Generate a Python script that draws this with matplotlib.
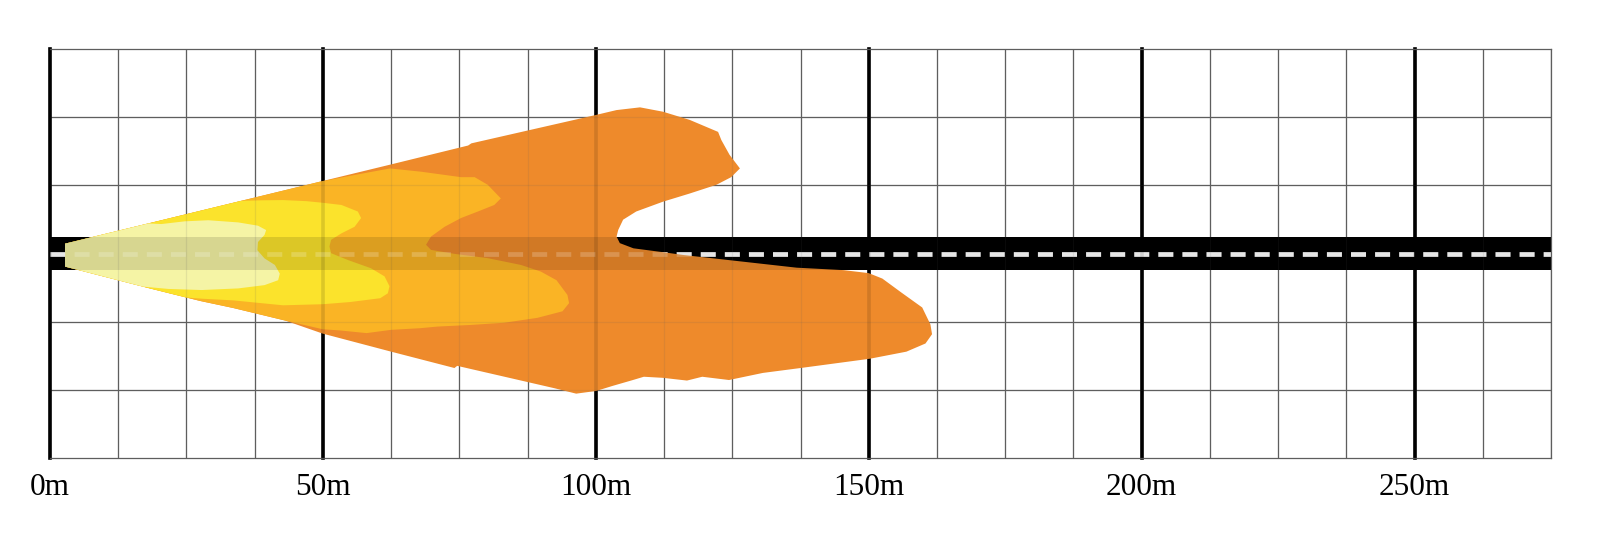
"""Headlight beam pattern over a straight road, plan view (distance vs lateral offset)."""
import numpy as np
import matplotlib
matplotlib.use("Agg")
import matplotlib.pyplot as plt

# --- axes / road layout (metres) ---
X_MAX = 275.0
Y_HALF = 37.5
CELL = 12.5
ROAD_HALF = 3.0
MAJOR_X = [0, 50, 100, 150, 200, 250]
MAJOR_LABELS = ["0m", "50m", "100m", "150m", "200m", "250m"]

# --- beam zones: distance (m), lateral offset (m) ---
# outermost, weakest zone
far_x = [2.75, 18, 35, 50, 62.3, 76.6, 77.2, 100, 103.8, 108.1, 112.3, 117.2,
         122.4, 123.0, 124.5, 126.4, 124.8, 122.1, 117.2, 112.3, 107.4, 105.0,
         104.1, 103.8, 104.4, 106.9, 113.0, 116.0, 136.8, 145.4, 150.0, 152.5,
         155.9, 159.8, 161.3, 161.6, 160.4, 156.9, 150.2, 137.5, 130.6, 124.4,
         119.5, 116.7, 112.3, 108.8, 106.8, 103.0, 100.1, 96.4, 92.4, 74.6,
         74.1, 62.5, 50, 43.1, 33.6, 27.5, 18.3, 5.5, 2.75]
far_y = [1.8, 5.51, 9.65, 13.3, 16.29, 19.8, 20.2, 25.4, 26.3, 26.8, 26.0, 24.5,
         22.3, 20.8, 18.1, 15.6, 14.0, 12.6, 11.0, 9.5, 7.7, 6.2,
         4.3, 3.1, 1.9, 0.95, 0.15, -0.27, -2.6, -3.05, -3.6, -4.6,
         -7.1, -9.9, -13.0, -14.8, -16.5, -18.0, -19.3, -21.0, -21.9, -23.2,
         -22.6, -23.3, -22.8, -22.6, -23.2, -24.3, -25.2, -25.7, -24.7, -20.6,
         -21.0, -18.0, -14.7, -12.3, -10.0, -8.7, -6.4, -3.1, -2.4]

# second zone (light orange)
mid_x = [2.75, 18, 35, 49.5, 55.8, 62.3, 68, 75.3, 77.8, 80.2, 82.6, 81.4,
         78.4, 75.3, 72.3, 69.8, 68.9, 69.8, 74.1, 80.2, 86.3, 89.9, 92.8,
         94.8, 95.1, 93.9, 89.3, 83.2, 77.1, 71, 67.8, 62.5, 58, 53, 50,
         43.1, 33.6, 27.5, 18.3, 5.5, 2.75]
mid_y = [1.8, 5.51, 9.65, 13.18, 14.4, 15.6, 15.0, 14.0, 14.0, 12.6, 10.1, 8.9,
         7.7, 6.5, 4.9, 3.1, 1.6, 0.67, -0.06, -0.85, -2.1, -3.3, -4.9,
         -7.6, -9.1, -10.6, -11.8, -12.7, -13.1, -13.4, -13.7, -14.0, -14.6, -14.1, -13.9,
         -12.3, -10.0, -8.7, -6.4, -3.1, -2.4]

# third zone (yellow)
near_x = [2.75, 18, 35, 38.5, 42.7, 47, 50, 53.4, 56.4, 57, 55.8, 53.4, 51.5,
          51.2, 51.5, 54.6, 58.8, 61.3, 62.2, 61.9, 60.5, 55, 50, 42.7, 33.6,
          28, 25, 18.3, 5.5, 2.75]
near_y = [1.8, 5.51, 9.65, 9.75, 9.8, 9.6, 9.3, 8.9, 7.7, 6.5, 4.9, 3.7, 2.5,
          1.3, 0.06, -1.2, -2.7, -4.2, -6.0, -7.3, -8.2, -8.9, -9.3, -9.5, -8.6,
          -8.3, -8.08, -6.4, -3.1, -2.4]

# brightest zone (pale yellow)
hot_x = [2.75, 18, 20.4, 24.7, 29, 34.5, 38.1, 39.6, 39.3, 38.1, 38.0, 39.3,
         41.2, 42.1, 41.8, 39.3, 34.5, 27.8, 21.7, 17, 5.5, 2.75]
hot_y = [1.8, 5.51, 5.4, 5.9, 6.1, 5.7, 5.1, 4.3, 3.4, 2.1, 0.6, -0.9,
         -2.1, -3.7, -4.9, -5.8, -6.4, -6.7, -6.5, -6.07, -3.1, -2.4]

ZONES = [(far_x, far_y, "#EE8A2B"),
         (mid_x, mid_y, "#FAB425"),
         (near_x, near_y, "#FBE32C"),
         (hot_x, hot_y, "#F5F4A5")]

GRID_GREY = "#5e5e5e"


def draw_ground(ax, alpha, dash_alpha, z):
    """Grid lines + road. Drawn once below the beam and once faintly on top,
    which makes the beam look slightly see-through like the original."""
    for x in np.arange(0, X_MAX + 1e-6, CELL):
        if x % 50:
            ax.axvline(x, color=GRID_GREY, lw=0.9, alpha=alpha, zorder=z)
    for y in np.arange(-Y_HALF + CELL, Y_HALF, CELL):
        if abs(y) > ROAD_HALF:
            ax.axhline(y, color=GRID_GREY, lw=0.9, alpha=alpha, zorder=z)
    for x in MAJOR_X:
        ax.axvline(x, color="black", lw=2.6, alpha=alpha, zorder=z, clip_on=False)
    ax.axhspan(-ROAD_HALF, ROAD_HALF, color="black", lw=0, alpha=alpha, zorder=z)
    ax.plot([0, X_MAX], [0, 0], color="white", lw=3.4, ls=(0, (3.18, 1.92)),
            alpha=dash_alpha, zorder=z)


def main():
    fig = plt.figure(figsize=(16, 5.37), dpi=100)
    ax = fig.add_axes([50 / 1600, 79 / 537, 1501 / 1600, 409 / 537])
    ax.set_xlim(0, X_MAX)
    ax.set_ylim(-Y_HALF, Y_HALF)
    ax.set_xticks([]); ax.set_yticks([])
    ax.spines["left"].set_visible(False)
    for s in ("top", "right", "bottom"):
        ax.spines[s].set_color(GRID_GREY)
        ax.spines[s].set_linewidth(0.9)

    draw_ground(ax, 1.0, 1.0, z=1)

    for zx, zy, col in ZONES:
        ax.fill(zx, zy, color=col, lw=0, zorder=3)

    # faint ground on top of the beam
    draw_ground(ax, 0.12, 0.2, z=4)

    trans = ax.get_xaxis_transform()
    for x, lab in zip(MAJOR_X, MAJOR_LABELS):
        ax.text(x, -0.0905, lab, transform=trans, ha="center", va="baseline",
                fontsize=22.5, family="Liberation Serif", clip_on=False)

    fig.savefig("out.png", dpi=100, facecolor="white")
    plt.close(fig)


if __name__ == "__main__":
    main()
